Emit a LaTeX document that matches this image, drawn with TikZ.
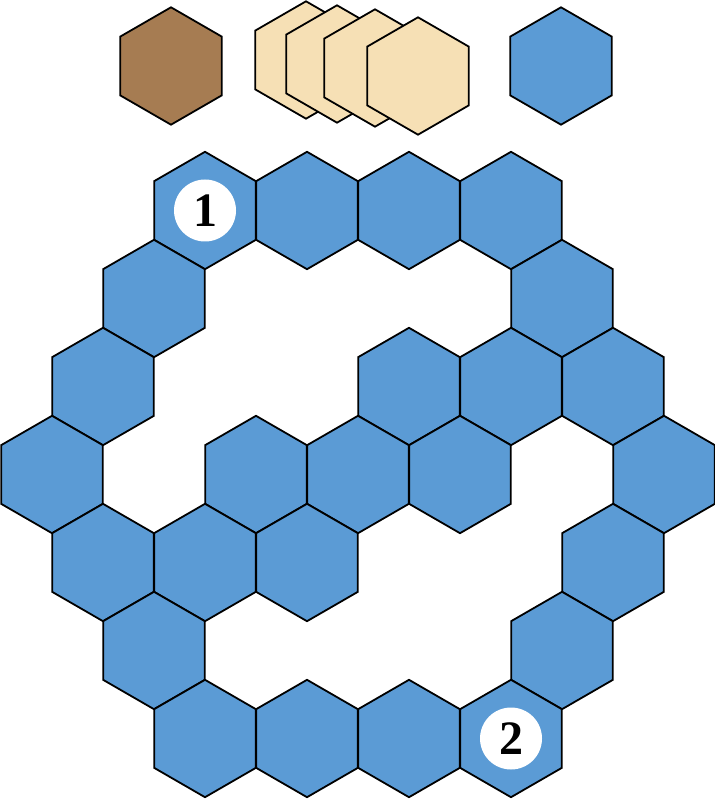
\documentclass[tikz,border=0pt]{standalone}
\usepackage{fontspec}
\newfontfamily\numfont{Liberation Serif}
\usetikzlibrary{shapes.geometric}

\definecolor{hexblue}{HTML}{5B9BD5}
\definecolor{hexbrown}{HTML}{A67C52}
\definecolor{hextan}{HTML}{F6E0B5}

\newcommand\marknum[1]{{\numfont\fontsize{48}{48}\selectfont\bfseries #1}}

\begin{document}
\begin{tikzpicture}[
  x=1pt, y=-1pt,
  hex/.style={regular polygon, regular polygon sides=6,
              shape border rotate=30, minimum size=117.4pt,
              inner sep=0pt, draw=black, line width=1.8pt,
              fill=hexblue},
  brownhex/.style={hex, fill=hexbrown},
  tanhex/.style={hex, fill=hextan},
  marker/.style={circle, fill=white, minimum size=62pt, inner sep=0pt},
]

\useasboundingbox (0,0) rectangle (714,799);

%% ── Column / row positions ────────────────────────────
\def\cx#1{52+51*#1}    % half-step column x
\def\ry#1{210.5+88*#1} % row y

%% ── Pieces on top ─────────────────────────────────────
\node[brownhex] (brown) at (171,66) {};
\node[tanhex] (tanA) at (306,60) {};
\node[tanhex] (tanB) at (337,64) {};
\node[tanhex] (tanC) at (375,68) {};
\node[tanhex] (tanD) at (418,76) {};
\node[hex]      (spare) at (561,66) {};

%% ── Board rows (top → bottom) ─────────────────────────
\foreach \k in {3,5,7,9}    {\node[hex] (r0-\k) at ({\cx{\k}},{\ry{0}}) {};}
\foreach \k in {2,10}       {\node[hex] (r1-\k) at ({\cx{\k}},{\ry{1}}) {};}
\foreach \k in {1,7,9,11}   {\node[hex] (r2-\k) at ({\cx{\k}},{\ry{2}}) {};}
\foreach \k in {0,4,6,8,12} {\node[hex] (r3-\k) at ({\cx{\k}},{\ry{3}}) {};}
\foreach \k in {1,3,5,11}   {\node[hex] (r4-\k) at ({\cx{\k}},{\ry{4}}) {};}
\foreach \k in {2,10}       {\node[hex] (r5-\k) at ({\cx{\k}},{\ry{5}}) {};}
\foreach \k in {3,5,7,9}    {\node[hex] (r6-\k) at ({\cx{\k}},{\ry{6}}) {};}

%% ── Start / end markers ───────────────────────────────
\node[marker] (start) at (r0-3) {\marknum{1}};
\node[marker] (goal)  at (r6-9) {\marknum{2}};

\end{tikzpicture}
\end{document}
